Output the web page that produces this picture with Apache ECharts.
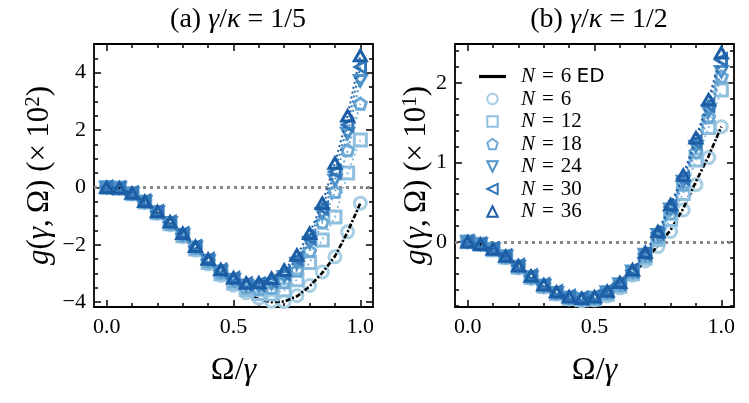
<!DOCTYPE html>
<html>
<head>
<meta charset="utf-8">
<script src="https://cdn.jsdelivr.net/npm/echarts@6/dist/echarts.min.js"></script>
<style>html,body{margin:0;padding:0;background:#fff;}#c{width:749px;height:403px;}</style>
</head>
<body>
<div id="c"></div>
<script>
// ---------- data ----------
const X = [0, 0.05, 0.1, 0.15, 0.2, 0.25, 0.3, 0.35, 0.4, 0.45, 0.5, 0.55, 0.6, 0.65, 0.7, 0.75, 0.8, 0.85, 0.9, 0.95, 1.0];
const N_LIST = [6, 12, 18, 24, 30, 36];

// panel (a) gamma/kappa = 1/5, units of 1e-2
const A_N6  = [0, -0.02, -0.22, -0.52, -0.90, -1.30, -1.72, -2.19, -2.67, -3.07, -3.41, -3.67, -3.86, -3.97, -3.98, -3.78, -3.42, -2.95, -2.42, -1.55, -0.55];
const A_N12 = [0, -0.02, -0.22, -0.51, -0.88, -1.27, -1.69, -2.15, -2.62, -3.01, -3.33, -3.56, -3.70, -3.72, -3.58, -3.22, -2.62, -1.83, -1.03, 0.50, 1.65];
const A_N18 = [0, -0.02, -0.21, -0.50, -0.87, -1.25, -1.66, -2.11, -2.58, -2.96, -3.26, -3.47, -3.55, -3.50, -3.30, -2.90, -2.22, -1.22, -0.15, 1.30, 2.92];
const A_N24 = [0, -0.02, -0.21, -0.50, -0.86, -1.23, -1.64, -2.09, -2.55, -2.92, -3.21, -3.41, -3.45, -3.36, -3.11, -2.65, -1.92, -0.92, 0.25, 1.88, 3.72];
const A_N30 = [0, -0.02, -0.20, -0.49, -0.85, -1.22, -1.62, -2.07, -2.52, -2.89, -3.18, -3.37, -3.38, -3.26, -2.99, -2.50, -1.76, -0.73, 0.55, 2.18, 4.20];
const A_N36 = [0, -0.02, -0.20, -0.48, -0.84, -1.20, -1.60, -2.05, -2.50, -2.86, -3.15, -3.33, -3.32, -3.17, -2.88, -2.36, -1.60, -0.55, 0.85, 2.50, 4.60];
const A_ED  = [0, -0.02, -0.22, -0.52, -0.90, -1.30, -1.72, -2.19, -2.67, -3.08, -3.43, -3.70, -3.90, -4.00, -3.98, -3.80, -3.45, -2.98, -2.40, -1.55, -0.55];

// panel (b) gamma/kappa = 1/2, units of 1e-1
const B_N6  = [0, -0.03, -0.10, -0.20, -0.33, -0.46, -0.57, -0.66, -0.72, -0.74, -0.73, -0.68, -0.58, -0.42, -0.24, -0.06, 0.13, 0.40, 0.72, 1.06, 1.45];
const B_N12 = [0, -0.03, -0.10, -0.19, -0.32, -0.45, -0.56, -0.65, -0.71, -0.73, -0.72, -0.66, -0.56, -0.40, -0.20, 0.03, 0.28, 0.61, 1.03, 1.44, 1.91];
const B_N18 = [0, -0.03, -0.09, -0.19, -0.31, -0.44, -0.55, -0.64, -0.70, -0.72, -0.71, -0.64, -0.54, -0.38, -0.18, 0.06, 0.36, 0.72, 1.13, 1.57, 2.08];
const B_N24 = [0, -0.03, -0.09, -0.18, -0.31, -0.44, -0.55, -0.64, -0.70, -0.72, -0.70, -0.63, -0.53, -0.37, -0.16, 0.09, 0.41, 0.76, 1.20, 1.64, 2.14];
const B_N30 = [0, -0.03, -0.09, -0.18, -0.30, -0.43, -0.54, -0.63, -0.69, -0.71, -0.69, -0.62, -0.52, -0.36, -0.15, 0.11, 0.44, 0.80, 1.26, 1.72, 2.29];
const B_N36 = [0, -0.03, -0.09, -0.18, -0.30, -0.43, -0.54, -0.63, -0.69, -0.71, -0.69, -0.62, -0.51, -0.35, -0.13, 0.13, 0.47, 0.84, 1.31, 1.79, 2.38];
const B_ED  = [0, -0.03, -0.10, -0.20, -0.33, -0.46, -0.57, -0.66, -0.72, -0.74, -0.73, -0.68, -0.58, -0.42, -0.23, -0.05, 0.15, 0.42, 0.76, 1.08, 1.45];

// axis ticks
const X_MAJOR = [0, 0.5, 1.0];
const X_MINOR = [0.1, 0.2, 0.3, 0.4, 0.6, 0.7, 0.8, 0.9];
const A_Y_MAJOR = [-4, -2, 0, 2, 4];
const A_Y_MINOR = [-3.5, -3, -2.5, -1.5, -1, -0.5, 0.5, 1, 1.5, 2.5, 3, 3.5, 4.5];
const B_Y_MAJOR = [0, 1, 2];
const B_Y_MINOR = [-0.8, -0.6, -0.4, -0.2, 0.2, 0.4, 0.6, 0.8, 1.2, 1.4, 1.6, 1.8, 2.2, 2.4];

// ---------- styling ----------
const COLORS = ['#a8cee4', '#8fbfdf', '#6eaad6', '#4f93c9', '#3478b9', '#1c5ea6'];
const SYMBOLS = [
  'circle',
  'rect',
  'path://M50,0 L97.6,34.5 L79.4,90.5 L20.6,90.5 L2.4,34.5 Z',
  'path://M0,0 L100,0 L50,87 Z',
  'path://M0,50 L87,0 L87,100 Z',
  'path://M50,0 L100,87 L0,87 Z'
];
const SERIF = '"Liberation Serif", "DejaVu Serif", serif';
const SANS = '"DejaVu Sans", "Liberation Sans", sans-serif';

const panels = [
  {vals: [A_N6, A_N12, A_N18, A_N24, A_N30, A_N36], ed: A_ED, ymin: -4.17, ymax: 5.0, major: A_Y_MAJOR, minor: A_Y_MINOR, left: 94, nameGap: 38},
  {vals: [B_N6, B_N12, B_N18, B_N24, B_N30, B_N36], ed: B_ED, ymin: -0.82, ymax: 2.49, major: B_Y_MAJOR, minor: B_Y_MINOR, left: 455, nameGap: 22}
];

const XMIN = -0.05, XMAX = 1.05;
const fmtY = v => (v < 0 ? '\u2212' + Math.abs(v) : String(v));
const fmtX = v => v.toFixed(1);

const grids = [], xAxes = [], yAxes = [], series = [];
const lineBox = {show: true, onZero: false, lineStyle: {color: '#000', width: 1.8}};
const noLine = {show: false, onZero: false};

panels.forEach((p, gi) => {
  grids.push({left: p.left, top: 44, width: 279, height: 263, containLabel: false});
  const mkX = (pos, vals, len, main) => ({
    type: 'value', gridIndex: gi, min: XMIN, max: XMAX, position: pos,
    axisLine: main ? lineBox : noLine,
    axisTick: {show: true, inside: true, length: len, lineStyle: {color: '#000', width: 1.5}, customValues: vals},
    axisLabel: (main && pos === 'bottom') ? {show: true, customValues: X_MAJOR, formatter: fmtX, fontFamily: SERIF, fontSize: 22, color: '#000', margin: 9} : {show: false},
    splitLine: {show: false},
    name: (main && pos === 'bottom') ? '{n|\u03A9/}{i|\u03B3}' : '',
    nameLocation: 'middle', nameGap: 48,
    nameTextStyle: {rich: {n: {fontFamily: SERIF, fontSize: 32, color: '#000'}, i: {fontFamily: SERIF, fontStyle: 'italic', fontSize: 32, color: '#000'}}}
  });
  xAxes.push(mkX('bottom', X_MAJOR, 7, true));
  xAxes.push(mkX('bottom', X_MINOR, 4, false));
  xAxes.push(mkX('top', X_MAJOR, 7, true));
  xAxes.push(mkX('top', X_MINOR, 4, false));
  const mkY = (pos, vals, len, main) => ({
    type: 'value', gridIndex: gi, min: p.ymin, max: p.ymax, position: pos,
    axisLine: main ? lineBox : noLine,
    axisTick: {show: true, inside: true, length: len, lineStyle: {color: '#000', width: 1.5}, customValues: vals},
    axisLabel: (main && pos === 'left') ? {show: true, customValues: p.major, formatter: fmtY, fontFamily: SERIF, fontSize: 22, color: '#000', margin: 8} : {show: false},
    splitLine: {show: false},
    name: (main && pos === 'left') ? '{i|g}{n|(}{i|\u03B3}{n|,\u2009\u03A9) (\u00D7\u200910}{s|' + (gi === 0 ? '2' : '1') + '}{n|)}' : '',
    nameLocation: 'middle', nameRotate: 90, nameGap: p.nameGap,
    nameTextStyle: {rich: {
      n: {fontFamily: SERIF, fontSize: 31, color: '#000'},
      i: {fontFamily: SERIF, fontStyle: 'italic', fontSize: 31, color: '#000'},
      s: {fontFamily: SERIF, fontSize: 21, color: '#000', padding: [0, 0, 12, 0]}
    }}
  });
  yAxes.push(mkY('left', p.major, 7, true));
  yAxes.push(mkY('left', p.minor, 4, false));
  yAxes.push(mkY('right', p.major, 7, true));
  yAxes.push(mkY('right', p.minor, 4, false));

  p.vals.forEach((arr, k) => {
    const s = {
      name: 'N = ' + N_LIST[k], type: 'line', xAxisIndex: gi * 4, yAxisIndex: gi * 4,
      data: X.map((x, i) => [x, arr[i]]),
      symbol: SYMBOLS[k], symbolSize: 12, symbolKeepAspect: true,
      itemStyle: {color: 'none', borderColor: COLORS[k], borderWidth: 3},
      lineStyle: {color: COLORS[k], width: 2, type: [2, 3]},
      z: 3 + k, animation: false, silent: true
    };
    if (k === 0) {
      s.markLine = {silent: true, symbol: 'none', label: {show: false},
        lineStyle: {color: '#888', width: 3, type: [3, 4]}, data: [{yAxis: 0}], z: 1};
    }
    series.push(s);
  });
  series.push({
    name: 'N = 6 ED', type: 'line', xAxisIndex: gi * 4, yAxisIndex: gi * 4,
    data: X.map((x, i) => [x, p.ed[i]]), symbol: 'none',
    itemStyle: {color: '#000'},
    lineStyle: {color: '#000', width: 2.6, type: [5, 2, 2, 2]},
    z: 4, animation: false, silent: true
  });
});

const legendNames = ['N = 6 ED'].concat(N_LIST.map(n => 'N = ' + n));
const legendData = legendNames.map((n, i) => i === 0
  ? {name: n, icon: 'path://M0,0 L30,0 L30,3.5 L0,3.5 Z', itemStyle: {color: '#000'}}
  : {name: n, lineStyle: {opacity: 0}});

const titleRich = {n: {fontFamily: SERIF, fontSize: 28, fontWeight: 'normal', color: '#000'},
                   i: {fontFamily: SERIF, fontStyle: 'italic', fontSize: 28, fontWeight: 'normal', color: '#000'}};

const chart = echarts.init(document.getElementById('c'), null, {renderer: 'canvas'});
chart.setOption({
  animation: false,
  backgroundColor: '#fff',
  title: [
    {text: '{n|(a) }{i|\u03B3}{n|/}{i|\u03BA}{n| = 1/5}', left: 233, top: 1, textAlign: 'center',
     textStyle: {fontWeight: 'normal', rich: titleRich}},
    {text: '{n|(b) }{i|\u03B3}{n|/}{i|\u03BA}{n| = 1/2}', left: 594, top: 1, textAlign: 'center',
     textStyle: {fontWeight: 'normal', rich: titleRich}}
  ],
  legend: {
    data: legendData, orient: 'vertical', left: 473, top: 61,
    itemWidth: 27, itemHeight: 13, itemGap: 1.5, selectedMode: false,
    formatter: name => name.replace('N', '{i|N}').replace(' = ', '\u200A = \u200A').replace('ED', '{s|ED}'),
    textStyle: {fontFamily: SERIF, fontSize: 21, color: '#000', padding: [0, 0, 0, 10], lineHeight: 21,
      rich: {i: {fontFamily: SERIF, fontStyle: 'italic', fontSize: 21, color: '#000'}, s: {fontFamily: SANS, fontSize: 20, color: '#000'}}}
  },
  grid: grids, xAxis: xAxes, yAxis: yAxes, series: series
});
</script>
</body>
</html>
